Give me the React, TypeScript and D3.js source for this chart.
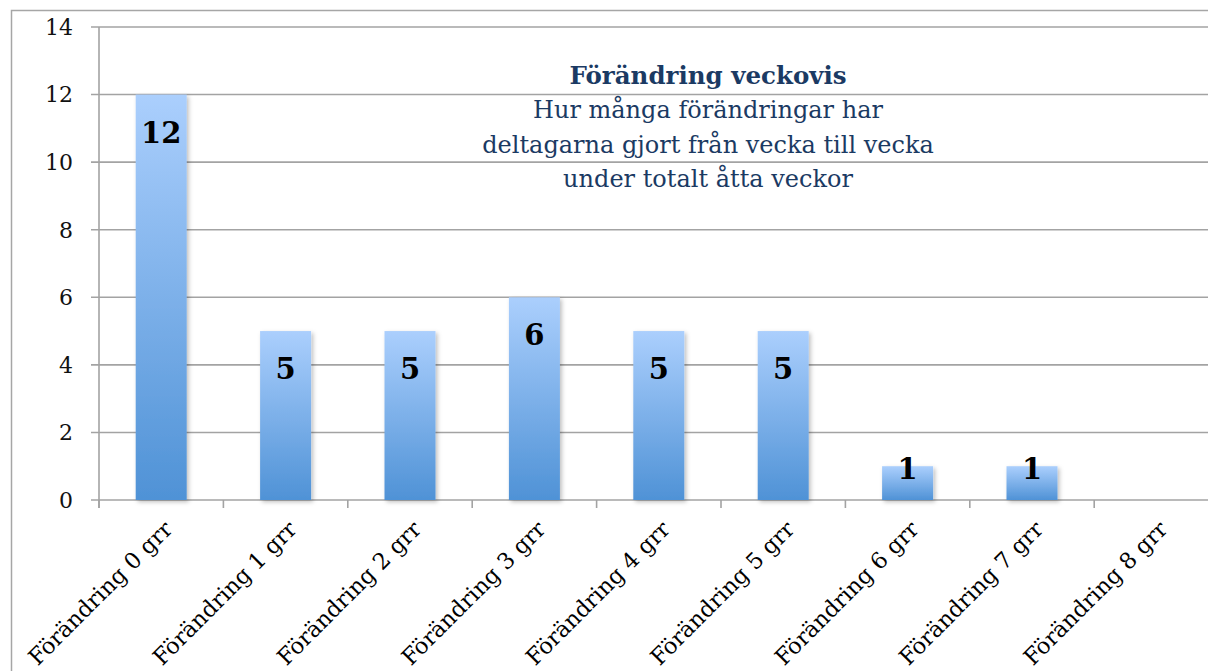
import { useEffect, useRef } from "react";
import * as d3 from "d3";

// data
const categories = [
  "Förändring 0 grr",
  "Förändring 1 grr",
  "Förändring 2 grr",
  "Förändring 3 grr",
  "Förändring 4 grr",
  "Förändring 5 grr",
  "Förändring 6 grr",
  "Förändring 7 grr",
  "Förändring 8 grr",
];
const counts = [12, 5, 5, 6, 5, 5, 1, 1, 0];
const yTicks = [0, 2, 4, 6, 8, 10, 12, 14];
const titleText = "Förändring veckovis";
const subtitleLines = [
  "Hur många förändringar har",
  "deltagarna gjort från vecka till vecka",
  "under totalt åtta veckor",
];

const W = 1208;
const H = 671;
const FONT = "'DejaVu Serif', 'Liberation Serif', serif";
const NAVY = "#1b3a63";

export default function App() {
  const svgRef = useRef<SVGSVGElement>(null);

  useEffect(() => {
    if (!svgRef.current) return;
    const svg = d3.select(svgRef.current);
    svg.selectAll("*").remove();

    const left = 99;
    const top = 27;
    const bottom = 500;
    const bandW = 124.4;
    const right = left + bandW * categories.length;

    const x = d3.scaleBand<string>()
      .domain(categories)
      .range([left, right])
      .paddingInner(0.59)
      .paddingOuter(0.295);
    const y = d3.scaleLinear().domain([0, 14]).range([bottom, top]);

    const defs = svg.append("defs");
    const grad = defs.append("linearGradient")
      .attr("id", "barGrad")
      .attr("x1", 0).attr("y1", 0).attr("x2", 0).attr("y2", 1);
    grad.append("stop").attr("offset", "0%").attr("stop-color", "#abcffd");
    grad.append("stop").attr("offset", "100%").attr("stop-color", "#4f92d6");

    const shadow = defs.append("filter")
      .attr("id", "barShadow")
      .attr("x", "-20%").attr("y", "-20%")
      .attr("width", "140%").attr("height", "140%");
    shadow.append("feDropShadow")
      .attr("dx", 2).attr("dy", 2)
      .attr("stdDeviation", 2)
      .attr("flood-color", "#000")
      .attr("flood-opacity", 0.25);

    // outer chart frame
    svg.append("rect")
      .attr("x", 11.5).attr("y", 10.5)
      .attr("width", W + 20).attr("height", H + 20)
      .attr("fill", "#fff")
      .attr("stroke", "#a6a6a6")
      .attr("stroke-width", 1.5);

    // gridlines + y ticks
    svg.append("g")
      .selectAll("line")
      .data(yTicks)
      .join("line")
      .attr("x1", left - 8)
      .attr("x2", right + 20)
      .attr("y1", d => y(d))
      .attr("y2", d => y(d))
      .attr("stroke", "#a3a3a3")
      .attr("stroke-width", 1.6);

    svg.append("g")
      .selectAll("text")
      .data(yTicks)
      .join("text")
      .attr("x", left - 26)
      .attr("y", d => y(d))
      .attr("dy", "0.36em")
      .attr("text-anchor", "end")
      .attr("font-family", FONT)
      .attr("font-size", 22)
      .attr("fill", "#111")
      .text(d => d);

    // y axis line
    svg.append("line")
      .attr("x1", left).attr("x2", left)
      .attr("y1", top).attr("y2", bottom + 8)
      .attr("stroke", "#a3a3a3")
      .attr("stroke-width", 1.6);

    // x ticks at band boundaries
    svg.append("g")
      .selectAll("line")
      .data(d3.range(categories.length + 1))
      .join("line")
      .attr("x1", i => left + i * bandW)
      .attr("x2", i => left + i * bandW)
      .attr("y1", bottom)
      .attr("y2", bottom + 8)
      .attr("stroke", "#a3a3a3")
      .attr("stroke-width", 1.6);

    // title
    const tx = 708;
    svg.append("text")
      .attr("x", tx).attr("y", 84)
      .attr("text-anchor", "middle")
      .attr("font-family", FONT)
      .attr("font-weight", "bold")
      .attr("font-size", 24.5)
      .attr("fill", NAVY)
      .text(titleText);
    svg.append("g")
      .selectAll("text")
      .data(subtitleLines)
      .join("text")
      .attr("x", tx)
      .attr("y", (_, i) => 118 + i * 34.5)
      .attr("text-anchor", "middle")
      .attr("font-family", FONT)
      .attr("font-size", 24)
      .attr("fill", NAVY)
      .text(d => d);

    // bars
    const data = categories.map((c, i) => ({ c, v: counts[i] }));
    svg.append("g")
      .selectAll("rect")
      .data(data.filter(d => d.v > 0))
      .join("rect")
      .attr("x", d => x(d.c)!)
      .attr("y", d => y(d.v))
      .attr("width", x.bandwidth())
      .attr("height", d => bottom - y(d.v))
      .attr("fill", "url(#barGrad)")
      .attr("filter", "url(#barShadow)");

    // value labels
    svg.append("g")
      .selectAll("text")
      .data(data.filter(d => d.v > 0))
      .join("text")
      .attr("x", d => x(d.c)! + x.bandwidth() / 2)
      .attr("y", d => Math.min(y(d.v) + 48, bottom - 21))
      .attr("text-anchor", "middle")
      .attr("font-family", FONT)
      .attr("font-weight", "bold")
      .attr("font-size", 29)
      .attr("fill", "#000")
      .text(d => d.v);

    // rotated category labels
    svg.append("g")
      .selectAll("text")
      .data(categories)
      .join("text")
      .attr("transform", d => `translate(${x(d)! + x.bandwidth() / 2 + 7},${bottom + 25}) rotate(-45)`)
      .attr("text-anchor", "end")
      .attr("dy", "0.35em")
      .attr("font-family", FONT)
      .attr("font-size", 22.5)
      .attr("fill", "#000")
      .text(d => d);
  }, []);

  return (
    <svg
      ref={svgRef}
      width={W}
      height={H}
      style={{ position: "absolute", left: 0, top: 0, background: "#fff" }}
    />
  );
}
